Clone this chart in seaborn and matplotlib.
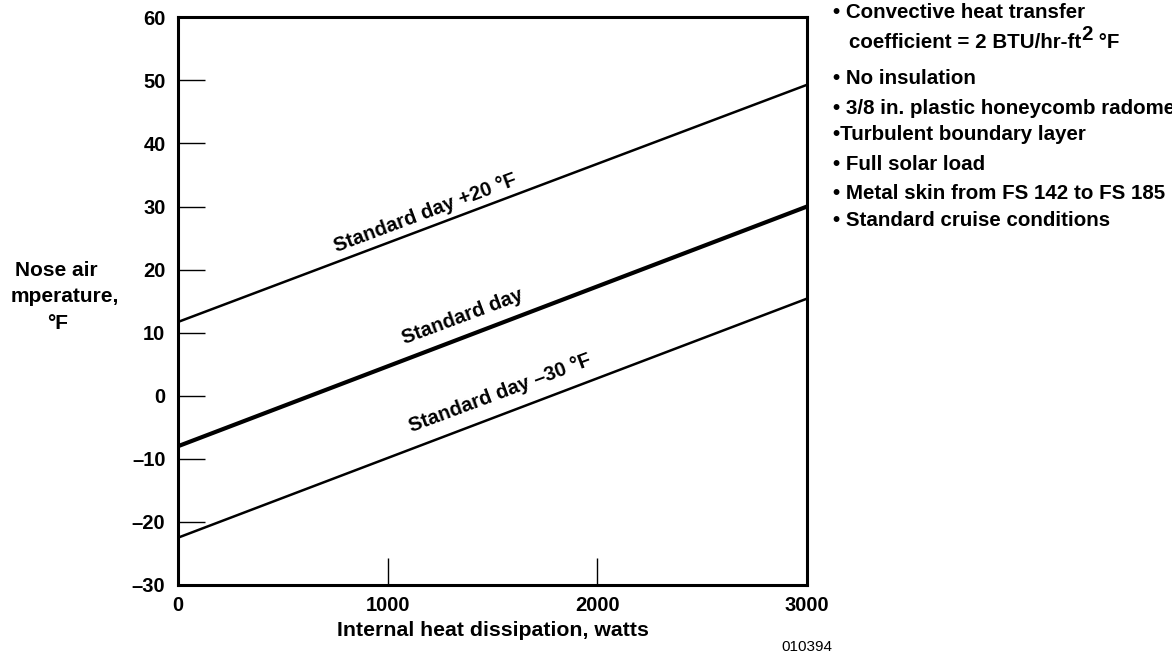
import matplotlib
matplotlib.use("Agg")
import matplotlib.pyplot as plt
import seaborn as sns
import pandas as pd

# values (endpoints of each straight line)
watts = [0, 3000]
std_plus20 = [11.7, 49.3]
std_day = [-8.0, 30.0]
std_minus30 = [-22.5, 15.4]

x_ticks = [0, 1000, 2000, 3000]
y_ticks = [-30, -20, -10, 0, 10, 20, 30, 40, 50, 60]

notes = [
    "\u2022 Convective heat transfer",
    "\u2022 No insulation",
    "\u2022 3/8 in. plastic honeycomb radome",
    "\u2022Turbulent boundary layer",
    "\u2022 Full solar load",
    "\u2022 Metal skin from FS 142 to FS 185",
    "\u2022 Standard cruise conditions",
]

sns.set_style("white")
FONT = ["Liberation Sans", "DejaVu Sans"]
plt.rcParams["font.family"] = FONT
plt.rcParams["font.weight"] = "bold"
plt.rcParams["text.color"] = "black"
plt.rcParams["xtick.color"] = "black"
plt.rcParams["ytick.color"] = "black"
plt.rcParams["axes.labelcolor"] = "black"

fig = plt.figure(figsize=(11.72, 6.56), dpi=100)
ax = fig.add_axes([178 / 1172, 1 - 585 / 656, (807 - 178) / 1172, (585 - 17.3) / 656])

df = pd.DataFrame({"watts": watts * 3,
                   "temp": std_plus20 + std_day + std_minus30,
                   "case": ["+20"] * 2 + ["std"] * 2 + ["-30"] * 2})
for case, lw in [("+20", 1.8), ("std", 3.0), ("-30", 1.8)]:
    sns.lineplot(data=df[df["case"] == case], x="watts", y="temp",
                 color="black", linewidth=lw, ax=ax)

ax.set_xlim(0, 3000)
ax.set_ylim(-30, 60)
ax.set_xticks(x_ticks)
ax.set_yticks(y_ticks)
ax.set_yticklabels([str(v).replace("-", "\u2013") for v in y_ticks])
ax.tick_params(axis="both", direction="in", length=19.5, width=1.0,
               colors="black", labelsize=14.5, pad=9, left=True, bottom=True,
               right=False, top=False)
ax.tick_params(axis="x", pad=8)
for lab in ax.get_xticklabels() + ax.get_yticklabels():
    lab.set_fontweight("bold")
for sp in ax.spines.values():
    sp.set_linewidth(2.2)
    sp.set_color("black")
ax.set_xlabel("Internal heat dissipation, watts", fontsize=15.3, fontweight="bold", labelpad=4)
ax.set_ylabel("")

# curve labels
rot = 20.5
ax.text(1178, 29.0, "Standard day +20 \u00b0F", rotation=rot, rotation_mode="anchor",
        ha="center", va="center", fontsize=14.5, fontweight="bold")
ax.text(1359, 12.6, "Standard day", rotation=rot, rotation_mode="anchor",
        ha="center", va="center", fontsize=14.5, fontweight="bold")
ax.text(1536, 0.4, "Standard day \u201330 \u00b0F", rotation=rot, rotation_mode="anchor",
        ha="center", va="center", fontsize=14.5, fontweight="bold")

# y label (left edge of the original is cropped)
W, H = 1172, 656
fig.text(56 / W, 1 - 270 / H, "Nose air", ha="center", va="center", fontsize=15, fontweight="bold")
fig.text(65 / W, 1 - 297 / H, "mperature,", ha="center", va="center", fontsize=15, fontweight="bold")
fig.text(58 / W, 1 - 323 / H, "\u00b0F", ha="center", va="center", fontsize=15, fontweight="bold")

# notes on the right
note_y = [13, 79, 108, 134, 165, 194, 220]
for txt, y in zip(notes, note_y):
    fig.text(833 / W, 1 - y / H, txt, ha="left", va="center", fontsize=14.8, fontweight="bold")

t1 = fig.text(849 / W, 1 - 43 / H, "coefficient = 2 BTU/hr-ft", ha="left", va="center",
              fontsize=14.8, fontweight="bold")
fig.canvas.draw()
bb = t1.get_window_extent()
t2 = fig.text(bb.x1 / W, 1 - 35 / H, "2", ha="left", va="center", fontsize=14.8, fontweight="bold")
fig.canvas.draw()
bb2 = t2.get_window_extent()
fig.text(bb2.x1 / W, 1 - 43 / H, " \u00b0F", ha="left", va="center", fontsize=14.8, fontweight="bold")

fig.text(807 / W, 1 - 647 / H, "010394", ha="center", va="center", fontsize=11, fontweight="normal")

fig.savefig("out.png", dpi=100, facecolor="white")
